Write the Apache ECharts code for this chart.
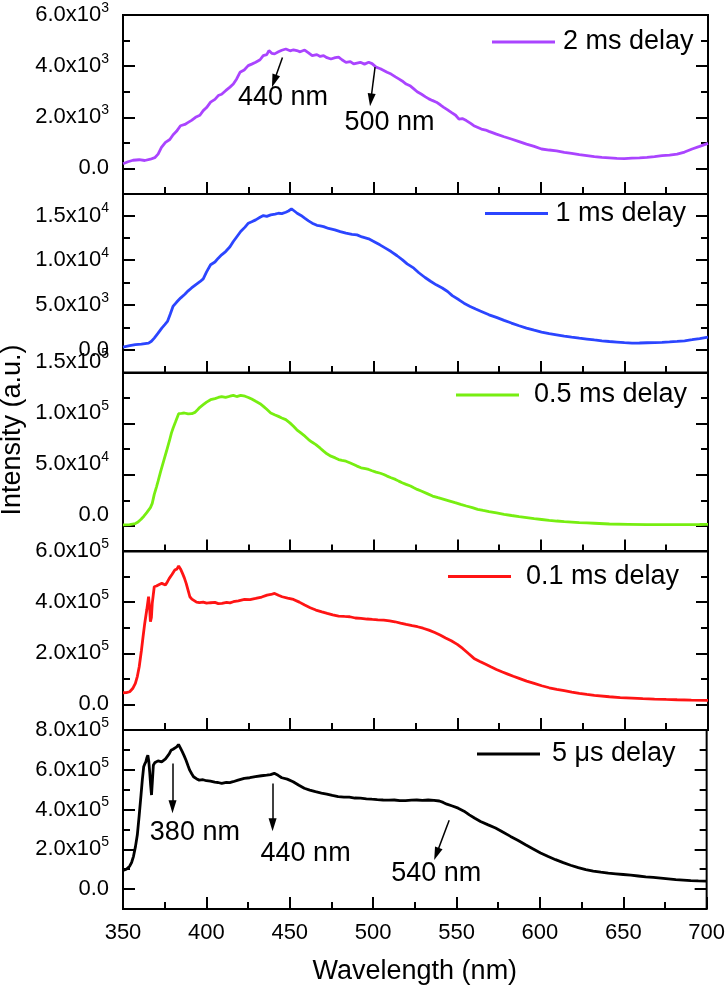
<!DOCTYPE html>
<html><head><meta charset="utf-8">
<script src="https://cdn.jsdelivr.net/npm/echarts@6/dist/echarts.min.js"></script>
<style>html,body{margin:0;padding:0;background:#fff}#c{width:728px;height:992px}</style>
</head><body><div id="c"></div>
<script>
// ---------- data ----------
const wl2ms = [350,353,356,359.7,363,366.4,369,371,373,375.4,378,380,382,384.4,387,389,391,393.4,396,398,400,402.4,405,407,409,411.4,414,416,418,420,422.5,424.9,427,429.4,432,433.9,436,437.3,439,440.7,443,445,447.4,450,452,454,456,458.7,461,463.2,466,468,470,472,474.4,477,479,481,483.4,486,488,490,492,494.5,497,499,501.4,504,506,508,510.4,513,515,517,519.4,522,524,526,528.4,531,533,535,537.5,540,541.9,544,546.4,549,551,553,555.4,558,559.9,562,564.4,567,568.9,571,573.4,578,582.3,587,591.4,596,600.4,605,609.4,614,618.4,623,627.5,632,636.5,641,645.5,650,654.5,659,663.5,668,672.5,677,681.5,686,690.5,695,700];
const int2ms = [180,260,320,340,310,360,420,560,820,1020,1130,1320,1450,1670,1720,1800,1880,2000,2080,2260,2380,2590,2700,2850,2900,3040,3180,3300,3500,3760,3850,4020,4080,4150,4250,4410,4450,4610,4500,4480,4560,4620,4670,4600,4640,4610,4560,4630,4520,4410,4450,4380,4410,4330,4280,4330,4350,4250,4150,4180,4090,4120,4150,4080,4150,4100,3960,3900,3830,3760,3690,3580,3500,3420,3300,3220,3110,3000,2910,2800,2720,2660,2590,2480,2390,2300,2190,2080,1930,1950,1870,1760,1670,1610,1540,1500,1450,1400,1340,1240,1150,1050,950,860,760,720,690,630,590,540,500,460,430,410,390,380,400,410,430,460,500,520,560,640,760,860,980];

const wl1ms = [350,354,357.4,361,365.3,367,368.7,371,373.2,375,376.6,378.3,379.9,382,384.4,387,389,391,393.4,396,398,400,402.4,405,407,409,411.4,414,416,418,420.4,423,425,427,429.4,432,434,436,438.4,441,443,445,447.4,449,450.8,452.5,454.2,456.5,458.7,461,463.2,466,468,470,473,476.7,480,483.4,487,490,493,497,500,503.7,507,510.4,514,517.2,520,524,527,530.7,534,537.4,541,544.2,547,551,554,557.7,561,564.4,569,573.4,578,582.4,587,591.4,596,600.4,605,609.4,614,618.4,623,627.5,632,636.5,641,645.5,650,654.5,659,663.5,668,672.5,677,681.5,686,690.5,695,700];
const int1ms = [300,450,560,620,740,950,1300,1850,2420,2800,3160,4000,4840,5300,5770,6200,6580,6900,7250,7600,7920,8700,9490,9800,10230,10600,10970,11500,12090,12600,13210,13700,14140,14300,14510,14800,14990,14900,15070,15150,15250,15200,15360,15500,15740,15500,15250,15000,14700,14400,14140,13900,13850,13760,13550,13390,13200,13020,12900,12830,12600,12390,12100,11720,11350,10970,10500,10040,9600,9110,8600,8070,7650,7250,6900,6510,6050,5580,5200,4840,4550,4280,3900,3610,3280,2980,2680,2420,2180,1970,1800,1670,1530,1410,1290,1190,1090,1000,920,860,790,740,750,780,800,820,870,930,1000,1120,1250,1400];

const wl05ms = [350,354,357.4,359,360.8,362.5,364.2,366.4,367.5,368.7,370,371,372.5,374.3,376,377.7,379,380,381.5,383.3,385,386.7,389,391.2,393,394.6,396,398,400,402.4,405,407,409,411.4,414,416,418,420.4,423,425,427,429.4,432,434,436,438.4,441,443,445,447.4,450,452,454,456.4,459,461,463,465.4,468,470,472,474.4,477,479,481,483.4,486,488,490,492.4,495,497,499,501.4,504,506,508,510.4,513,515,517,519.4,522,524,526,528.4,532,535.2,538.5,542,545.5,548.7,552,555.4,559,562.2,565.5,569,573.5,578,582.5,587,591.5,596,600.5,605,609.5,614,618.5,623,627.5,632,641,652.3,663.5,674.7,686,695,700];
const int05ms = [1000,1200,2300,3800,6500,9500,13000,17900,22000,30800,38000,43800,53000,63300,73000,82800,91000,95800,102000,109700,110000,110400,109500,109700,111000,113600,116000,118500,121000,123400,124500,125600,126500,125600,126800,127600,126500,127600,126800,125600,124000,121800,119500,116900,114000,110400,108500,107100,105500,103900,100500,97400,94000,90900,87500,84400,82000,79500,76000,73100,70500,68200,66500,64900,64000,63300,61500,60100,58500,56800,56000,55200,54000,52600,51500,50300,48700,47100,45500,43800,42200,40600,39000,37300,35700,34100,31600,29200,27600,26000,24300,22700,21100,19500,17900,16200,15100,14000,12700,11400,10200,9100,8100,7100,6300,5500,4800,4200,3700,3200,2900,2600,1900,1600,1300,1300,1300,1400,1600];

const wl01ms = [350,352,354,355.8,357.4,358.6,359.7,361,362,363,364.2,365.3,366,366.4,367,367.5,368.7,370,371,372,373.2,374.3,375.4,376.6,377.7,379.3,381,382.3,383.3,384.4,385.6,386.7,387.8,389,390,391.2,392.3,394,395.7,398,400,402.4,405,407,409.2,412,414,416,419,422.7,426,429.4,433,436.2,438.5,440.7,443,445.2,448.5,452,455.5,458.7,462,465.4,469,472.2,475.5,479,482.5,485.7,489,492.4,496,499.2,502.5,506,509.5,512.7,516,519.4,523,526.2,529.5,533,536.5,539.7,543,546.4,550,553.2,556.5,560,563.5,566.7,570,573.4,577,580.2,583.5,587,591.5,596,600.5,605,609.5,614,618.5,623,627.5,632,641,647.5,654.5,661,668,675,681.5,690,700];
const int01ms = [45600,46000,49500,62000,82100,110000,147300,210000,264700,316800,369000,421100,370000,323300,340000,395000,460200,463000,466800,470000,473300,475000,466800,480000,492800,508000,525400,530000,541100,530000,512400,495000,473300,445000,421100,412000,408100,400000,397700,400000,396000,397700,399000,394000,395000,399000,397000,401600,405000,410700,410000,414600,420000,427600,430000,434200,427000,421100,416000,410700,400000,388500,378000,369000,362000,355900,350000,345500,344000,342900,338000,336400,334000,332500,331000,329900,327000,323300,318000,312900,308000,303800,298000,290700,281000,271200,260000,249000,235000,219000,200000,179900,168000,157800,147000,136900,127000,118600,110000,101700,91000,82100,73000,65200,59000,53500,48000,43000,39000,35200,30000,27000,24800,22800,20900,19500,18300,17000,15600];

const wl5us = [350,352,354,355.2,356.3,357.5,358.6,359.7,360.8,361.6,362.4,363,363.7,364.3,364.9,365.5,366,366.6,367.1,367.6,368.2,369,369.8,371,372,373.2,374.3,375.5,376.6,377.7,378.8,380,381,382.2,383.3,384.4,385.6,386.7,387.8,389,390,391.2,392.3,394,395.7,398,400,402.4,405,407,409.2,412,414,416,419,422.7,426,429.4,433,436.2,438.5,440.7,443,445.2,448.5,452,455.5,458.7,462,465.4,469,472.2,475.5,479,482.5,485.7,489,492.4,496,499.2,502.5,506,509.5,512.7,516,519.4,523,526.2,529.5,533,536.5,539.7,542,544.2,547.5,551,554.5,557.7,561,564.4,569,573.4,578,582.4,587,591.4,596,600.4,605,609.4,614,618.4,623,627.5,632,636.5,641,645.5,650,654.5,659,663.5,668,672.5,677,681.5,686,690.5,695,700];
const int5us = [93300,100000,115000,135000,165000,215000,273000,370000,473000,550000,615000,628000,640000,660000,673000,640000,590000,520000,473000,540000,623000,635000,640000,645000,648000,640000,643000,655000,665000,680000,698000,703000,707000,715000,727000,710000,690000,670000,648000,620000,598000,580000,565000,555000,548000,550000,545000,543000,538000,536000,532000,537000,535000,540000,548000,557000,560000,565000,570000,573000,576000,582000,572000,560000,553000,540000,522000,507000,498000,490000,483000,478000,471000,465000,463000,462000,458000,457000,454000,452000,450000,448000,447000,448000,445000,445000,447000,448000,446000,448000,446000,443000,436000,427000,418000,407000,392000,373000,356000,340000,323000,307000,286000,265000,244000,223000,202000,182000,164000,148000,133000,120000,108000,98000,91000,85000,80000,77000,73500,70000,66000,62000,58500,55000,51500,48000,45500,43000,41500,40000];

const seriesNames = ['2 ms delay','1 ms delay','0.5 ms delay','0.1 ms delay','5 \u03bcs delay'];
const xTickLabels = [350,400,450,500,550,600,650,700];
const yMinVals = [-1000,-2600,-25000,-100000,-100000];
const yMaxVals = [6000,17400,150000,600000,800000];
const yMajorTicks = [[0,2000,4000,6000],[0,5000,10000,15000],[0,50000,100000,150000],[0,200000,400000,600000],[0,200000,400000,600000,800000]];
const yMinorTicks = [[1000,3000,5000],[2500,7500,12500],[25000,75000,125000],[100000,300000,500000],[100000,300000,500000,700000]];
const yTickLabels = [
  ['0.0','2.0x10^3','4.0x10^3','6.0x10^3'],
  ['0.0','5.0x10^3','1.0x10^4','1.5x10^4'],
  ['0.0','5.0x10^4','1.0x10^5','1.5x10^5'],
  ['0.0','2.0x10^5','4.0x10^5','6.0x10^5'],
  ['0.0','2.0x10^5','4.0x10^5','6.0x10^5','8.0x10^5']
];
// annotations: [panel, fromX, fromY, toX, toY, label, labelX, labelY]
const annotations = [
  [0, 445.4, 4341, 440.4, 3416, '440 nm', 445.7, 2784],
  [0, 500.8, 3961, 498.3, 2682, '500 nm', 509.4, 1804],
  [4, 379.7, 631500, 379.7, 414000, '380 nm', 393.1, 286500],
  [4, 439.7, 531500, 439.7, 324000, '440 nm', 459.5, 176500],
  [4, 545.6, 346500, 538.0, 177000, '540 nm', 537.9, 76500]
];

// ---------- layout / style ----------
const F = '"Liberation Sans", Arial, sans-serif';
const colors = ['#AA44FF','#2B45FF','#77EE11','#FF1414','#000000'];
const gridTops = [15,194,372.5,551,730];
const gridH = 179;
const legendPos = [[492,28.5,3],[485,200,2.5],[456,381.5,10],[448,563,10],[477,740.5,7]];
const labelShift = [0,0,11,0,0];

const dataSets = [[wl2ms,int2ms],[wl1ms,int1ms],[wl05ms,int05ms],[wl01ms,int01ms],[wl5us,int5us]];

function fmt(i){
  return function(v){
    const k = yMajorTicks[i].indexOf(v);
    if (k < 0) return '';
    const p = yTickLabels[i][k].split('^');
    return p.length > 1 ? '{m|' + p[0] + '}{s|' + p[1] + '}' : '{m|' + p[0] + '}';
  };
}
function tl(){ return {color:'#000', width:2}; }

const grid = [], xAxis = [], yAxis = [], series = [], legend = [];
for (let i = 0; i < 5; i++) {
  grid.push({left:123, right:20, top:gridTops[i], height:gridH, show:true, borderColor:'#000', borderWidth:2, backgroundColor:'transparent'});

  const pad = labelShift[i] ? [0,0,labelShift[i]*2,0] : 0;
  const yIdx = yAxis.length;
  yAxis.push({
    type:'value', gridIndex:i, min:yMinVals[i], max:yMaxVals[i], position:'left',
    axisLine:{show:false}, splitLine:{show:false},
    axisTick:{show:true, inside:true, length:12, customValues:yMajorTicks[i], lineStyle:tl()},
    axisLabel:{show:true, customValues:yMajorTicks[i], formatter:fmt(i), margin:14, padding:pad,
      rich:{m:{fontSize:22, fontFamily:F, color:'#000', lineHeight:28},
            s:{fontSize:14, fontFamily:F, color:'#000', lineHeight:14, verticalAlign:'top'}}}
  });
  yAxis.push({
    type:'value', gridIndex:i, min:yMinVals[i], max:yMaxVals[i], position:'left',
    axisLine:{show:false}, splitLine:{show:false}, axisLabel:{show:false},
    axisTick:{show:true, inside:true, length:7, customValues:yMinorTicks[i], lineStyle:tl()}
  });
  yAxis.push({
    type:'value', gridIndex:i, min:yMinVals[i], max:yMaxVals[i], position:'right',
    axisLine:{show:false}, splitLine:{show:false}, axisLabel:{show:false},
    axisTick:{show:true, inside:true, length:12, customValues:yMajorTicks[i], lineStyle:tl()}
  });
  yAxis.push({
    type:'value', gridIndex:i, min:yMinVals[i], max:yMaxVals[i], position:'right',
    axisLine:{show:false}, splitLine:{show:false}, axisLabel:{show:false},
    axisTick:{show:true, inside:true, length:7, customValues:yMinorTicks[i], lineStyle:tl()}
  });
  // helper y axis whose zero sits on the bottom edge of the panel (carries the x ticks)
  const helperIdx = yAxis.length;
  yAxis.push({
    type:'value', gridIndex:i, min:0, max:1, position:'left',
    axisLine:{show:false}, splitLine:{show:false}, axisLabel:{show:false}, axisTick:{show:false}
  });

  // tick x axis placed on the helper axis zero (bottom edge)
  const tickAxisIndex = xAxis.length;
  xAxis.push({
    type:'value', gridIndex:i, min:350, max:700, interval:50, splitLine:{show:false},
    axisLine:{show:false, onZero:true, onZeroAxisIndex:helperIdx},
    axisTick:{show:true, inside:true, length:12, lineStyle:tl()},
    minorTick:{show:true, splitNumber:2, length:7, lineStyle:tl()},
    axisLabel:{show:false}
  });
  if (i === 4) {
    xAxis.push({
      type:'value', gridIndex:i, min:350, max:700, interval:50, position:'bottom', splitLine:{show:false},
      axisLine:{show:false, onZero:false}, axisTick:{show:false},
      axisLabel:{show:true, fontSize:22, fontFamily:F, color:'#000', margin:13},
      name:'Wavelength (nm)', nameLocation:'middle', nameGap:49,
      nameTextStyle:{fontSize:27, fontFamily:F, color:'#000'}
    });
  }

  const wl = dataSets[i][0], iv = dataSets[i][1];
  const ann = annotations.filter(a => a[0] === i);
  series.push({
    name:seriesNames[i], type:'line', xAxisIndex:tickAxisIndex, yAxisIndex:yIdx,
    data: wl.map((x,k) => [x, iv[k]]),
    showSymbol:false, symbol:'none', color:colors[i],
    lineStyle:{width:2.8, color:colors[i]},
    markLine: ann.length ? {
      silent:true, symbol:['none','triangle'], symbolSize:[1,[8,13]],
      lineStyle:{color:'#000', width:1.5, type:'solid'}, label:{show:false},
      data: ann.map(a => [{coord:[a[1],a[2]], symbol:'none'}, {coord:[a[3],a[4]], symbol:'triangle', symbolSize:[8,13]}])
    } : undefined,
    markPoint: ann.length ? {
      silent:true, symbol:'circle', symbolSize:1, itemStyle:{color:'rgba(0,0,0,0)'},
      label:{show:true, position:'inside', fontSize:27, fontFamily:F, color:'#000', formatter:p => p.name},
      data: ann.map(a => ({name:a[5], coord:[a[6],a[7]]}))
    } : undefined
  });
  legend.push({
    data:[seriesNames[i]], left:legendPos[i][0], top:legendPos[i][1], padding:0,
    icon:'rect', itemWidth:63, itemHeight:3, selectedMode:false,
    textStyle:{fontSize:27, fontFamily:F, color:'#000', padding:[0,0,0,legendPos[i][2]]}
  });
}

const chart = echarts.init(document.getElementById('c'), null, {renderer:'canvas'});
chart.setOption({
  animation:false, backgroundColor:'#fff',
  grid, xAxis, yAxis, series, legend,
  graphic:[{type:'text', x:13, y:430, rotation:Math.PI/2,
    style:{text:'Intensity (a.u.)', fontSize:27, fontFamily:F, fill:'#000', align:'center', verticalAlign:'middle'}}]
});
</script></body></html>
